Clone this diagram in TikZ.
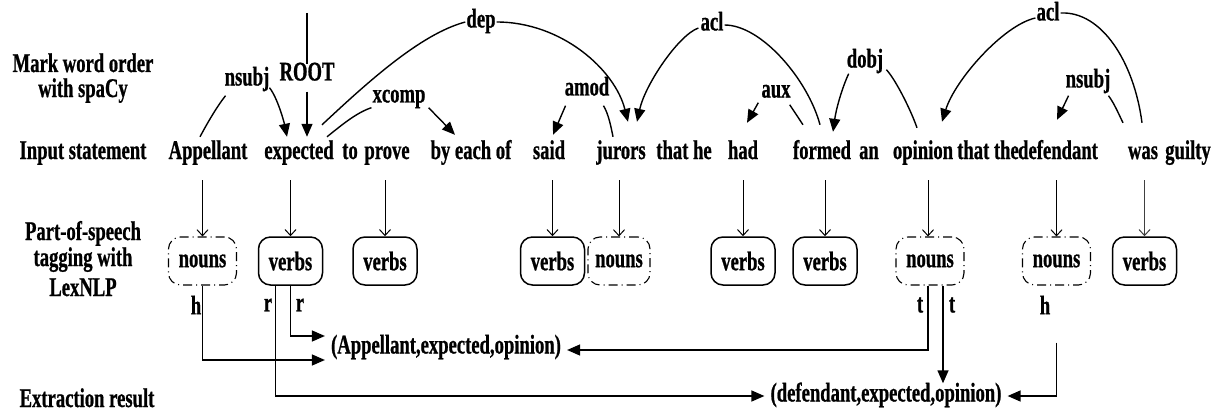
\documentclass[tikz,border=0pt]{standalone}
\usepackage{fontspec}
\setmainfont[FakeStretch=0.69,FakeBold=0.8]{Liberation Serif}
\usetikzlibrary{arrows.meta,calc}
\tikzset{
 wd/.style={inner sep=0pt, anchor=base, text height=16pt, text depth=4pt},
 lb/.style={inner sep=1pt, text height=15pt, text depth=4pt},
 ln/.style={line width=1.4pt},
 arr/.style={line width=1.4pt, -{Triangle[length=13pt,width=11pt]}},
 darr/.style={line width=1pt, -{Straight Barb[length=6pt,width=11pt,line width=1pt]}},
 vbox/.style={draw, line width=1.5pt, rounded corners=12pt, minimum width=64pt, minimum height=48pt, inner sep=0pt},
 nbox/.style={draw, line width=1.1pt, dash pattern=on 9pt off 4pt on 1pt off 4pt, rounded corners=12pt, minimum width=68pt, minimum height=48pt, inner sep=0pt},
 tri/.style={inner sep=2pt, text height=16pt, text depth=5pt},
}
\begin{document}
\begin{tikzpicture}[x=1pt,y=-1pt,font=\fontsize{27}{30}\selectfont\bfseries]
\useasboundingbox (0,0) rectangle (1218,412);
% left column
\node[wd] (m1) at (83,72) {Mark word order};
\node[wd] (m2) at (83,97) {with spaCy};
\node[wd] (is) at (83,159) {Input statement};
\node[wd] (p1) at (83,240) {Part-of-speech};
\node[wd] (p2) at (83,266) {tagging with};
\node[wd] (p3) at (83,296) {LexNLP};
\node[wd] (er) at (87,407) {Extraction result};
% words
\node[wd] (appellant) at (208,159) {Appellant};
\node[wd] (expected) at (299,159) {expected};
\node[wd] (to) at (350,159) {to};
\node[wd] (prove) at (387,159) {prove};
\node[wd] (byeach) at (471,159) {by each of};
\node[wd] (said) at (549,159) {said};
\node[wd] (jurors) at (621,159) {jurors};
\node[wd] (thathe) at (684,159) {that he};
\node[wd] (had) at (743,159) {had};
\node[wd] (formed) at (822,159) {formed};
\node[wd] (an) at (869,159) {an};
\node[wd] (opinion) at (923,159) {opinion};
\node[wd] (thatthe) at (988,159) {that the};
\node[wd] (defendant) at (1058,159) {defendant};
\node[wd] (was) at (1143,159) {was};
\node[wd] (guilty) at (1188,159) {guilty};
% dependency labels
\node[lb] (nsubjA) at (247,80) {nsubj};
\node[lb] (root) at (307,75) {ROOT};
\node[lb] (xcomp) at (399,97) {xcomp};
\node[lb] (dep) at (481,22) {dep};
\node[lb] (amod) at (587,90) {amod};
\node[lb] (aclA) at (712,25) {acl};
\node[lb] (aux) at (776,92) {aux};
\node[lb] (dobj) at (865,62) {dobj};
\node[lb] (aclB) at (1048,15) {acl};
\node[lb] (nsubjB) at (1088,82) {nsubj};
\coordinate (rt) at (307,13);
% dependency connectors
\draw[ln] ($(appellant.north)+(-8,-6)$) .. controls +(8,-15) and +(-8,10) .. ($(nsubjA.south west)+(2,5)$);
\draw[arr] ($(nsubjA.south east)+(-1,-3)$) .. controls +(8,10) and +(-3,-15) .. ($(expected.north)+(-12,-6)$);
\draw[ln] (rt) -- (root.north);
\draw[arr,shorten <=6pt] (root.south) -- ($(expected.north)+(8,-6)$);
\draw[ln] ($(expected.north)+(28,-6)$) .. controls +(15,-12) and +(-15,5) .. (xcomp.south west);
\draw[arr] ($(xcomp.south east)+(2,0)$) -- ($(byeach.north)+(-16,-8)$);
\draw[ln] ($(expected.north)+(23,-18)$) .. controls +(45,-42) and +(-45,12) .. (dep.west);
\draw[arr] (dep.east) .. controls +(65,0) and +(-13,-52) .. ($(jurors.north)+(7,-21)$);
\draw[arr] ($(amod.south west)+(2,5)$) -- ($(said.north)+(4,-8)$);
\draw[ln] ($(amod.south east)+(-7,5)$) .. controls +(5,8) and +(-2,-10) .. ($(jurors.north)+(-8,-6)$);
\draw[arr] ($(aclA.west)+(-1,3)$) .. controls +(-20,7) and +(8,-37) .. ($(jurors.north)+(16,-21)$);
\draw[ln] (aclA.east) .. controls +(37,0) and +(-12,-45) .. ($(formed.north)+(-2,-18)$);
\draw[arr] ($(aux.south west)+(-2,0)$) -- ($(had.north)+(4,-20)$);
\draw[ln] ($(aux.south east)+(-2,2)$) -- ($(formed.north)+(-19,-18)$);
\draw[arr] ($(dobj.south west)+(3,1)$) .. controls +(-7,15) and +(3,-22) .. ($(formed.north)+(11,-11)$);
\draw[ln] ($(dobj.south east)+(2,-3)$) .. controls +(8,8) and +(-7,-20) .. ($(opinion.north)+(-6,-15)$);
\draw[arr] ($(aclB.west)+(0,3)$) .. controls +(-32,7) and +(13,-42) .. ($(opinion.north)+(19,-21)$);
\draw[ln] ($(aclB.east)+(0,-2)$) .. controls +(41,-2) and +(-8,-61) .. ($(was.north)+(-1,-20)$);
\draw[arr] ($(nsubjB.south west)+(4,3)$) -- ($(defendant.north)+(-1,-23)$);
\draw[ln] ($(nsubjB.south east)+(-3,3)$) .. controls +(6,8) and +(-4,-8) .. ($(was.north)+(-20,-20)$);
% POS boxes
\node[nbox] (n1) at (202.5,261) {nouns};
\node[vbox] (v1) at (290.5,261) {verbs};
\node[vbox] (v2) at (385,261) {verbs};
\node[vbox] (v3) at (552.5,261) {verbs};
\node[nbox,minimum width=62pt] (n2) at (619,261) {nouns};
\node[vbox] (v4) at (743,261) {verbs};
\node[vbox] (v5) at (825,261) {verbs};
\node[nbox] (n3) at (930,261) {nouns};
\node[nbox] (n4) at (1056.5,261) {nouns};
\node[vbox] (v6) at (1144.5,261) {verbs};
\coordinate (wl) at (0,180);
\foreach \b in {n1,v1,v2,v3,n2,v4,v5,n4}{
  \draw[darr] (\b.north |- wl) -- (\b.north);
}
\draw[darr] ($(n3.north |- wl)+(-2,0)$) -- ($(n3.north)+(-2,0)$);
\draw[darr,line width=0.7pt,black!75] (v6.north |- wl) -- (v6.north);
% role labels
\node[inner sep=0pt] (hA) at (196,305) {h};
\node[inner sep=0pt] (rA) at (268,305) {r};
\node[inner sep=0pt] (rB) at (300,305) {r};
\node[inner sep=0pt] (tA) at (920,305) {t};
\node[inner sep=0pt] (tB) at (952,305) {t};
\node[inner sep=0pt] (hB) at (1045,305) {h};
% triples
\node[tri] (t1) at (446,348) {(Appellant,expected,opinion)};
\node[tri] (t2) at (886,396) {(defendant,expected,opinion)};
\coordinate (hs) at ($(n4.south)+(0,57)$);
\coordinate (ts) at ($(n3.south)+(13,0)$);
% extraction connectors
\draw[arr] (n1.south) |- ($(t1.west)+(-4,12)$);
\draw[arr] (v1.south) |- ($(t1.west)+(-4,-12)$);
\draw[arr] ($(v1.south)+(-15,0)$) |- ($(t2.west)+(-4,0)$);
\draw[arr] ($(n3.south)+(-2,0)$) |- ($(t1.east)+(4,2)$);
\draw[arr] (ts) -- (ts |- t2.north);
\draw[arr] (hs) |- ($(t2.east)+(4,0)$);
\end{tikzpicture}
\end{document}
